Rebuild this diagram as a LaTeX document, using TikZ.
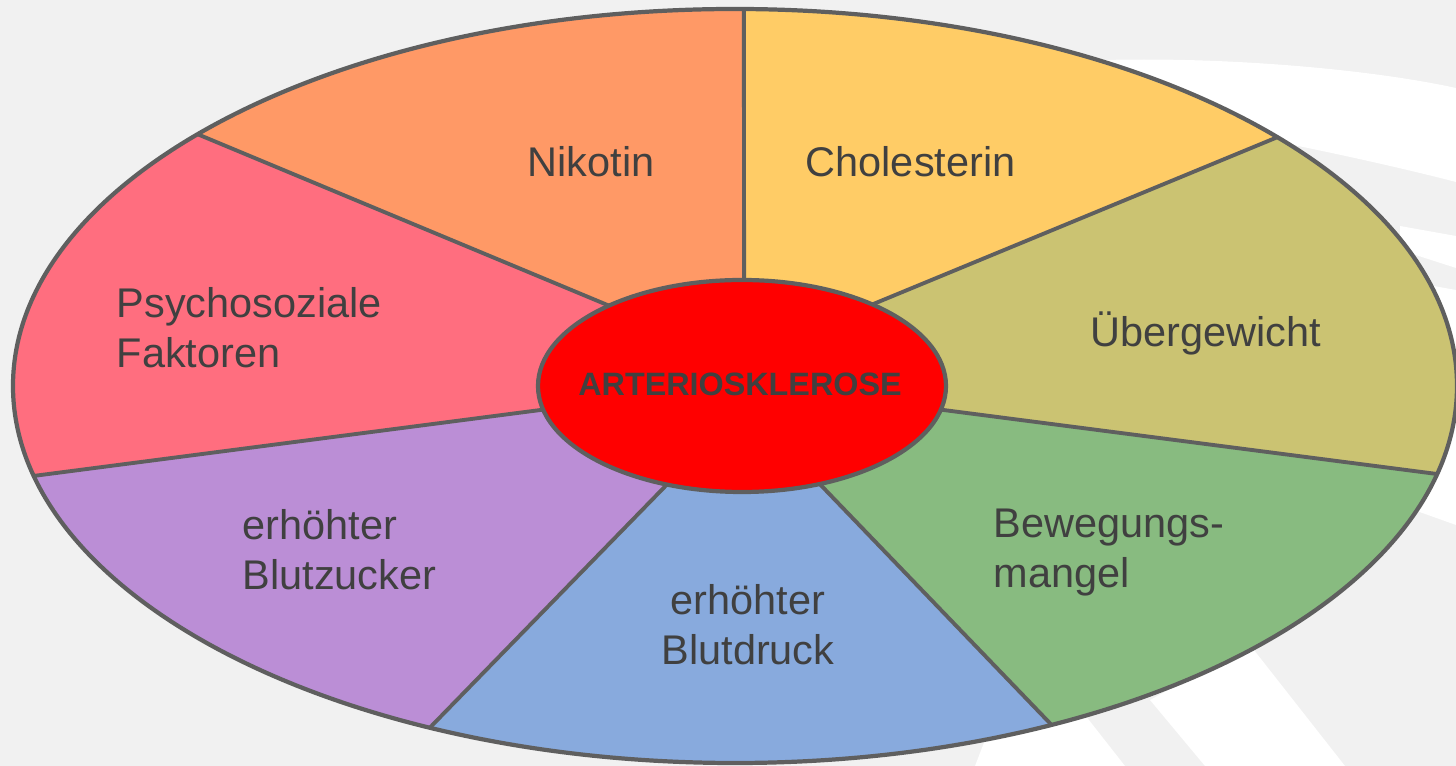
\documentclass[tikz,border=0pt]{standalone}
\usepackage{fontspec}
\setmainfont{Liberation Sans}

\definecolor{hintergrund}{HTML}{F1F1F1}
\definecolor{linie}{HTML}{5F5F5F}
\definecolor{schrift}{HTML}{404040}
\definecolor{nikotin}{HTML}{FF9966}
\definecolor{cholesterin}{HTML}{FFCC66}
\definecolor{uebergewicht}{HTML}{CBC372}
\definecolor{bewegung}{HTML}{88BB80}
\definecolor{blutdruck}{HTML}{88AADD}
\definecolor{blutzucker}{HTML}{BB8ED6}
\definecolor{psycho}{HTML}{FF6E7F}

\begin{document}
\begin{tikzpicture}[x=1mm, y=1mm,
    linie/.style={draw=linie, line width=1.1pt},
    kern/.style={fill=red, draw=linie, line width=1.2pt},
    faktor/.style={text=schrift, font=\fontsize{11.8}{14.3}\selectfont, inner sep=0pt, align=left, anchor=base west},
    kerntext/.style={text=schrift, font=\fontsize{9.2}{11}\selectfont\bfseries, inner sep=0pt}]

    % Hintergrund
    \fill[hintergrund] (-73.5,-38.0) rectangle (72.1,38.6);
    \useasboundingbox (-73.5,-38.0) rectangle (72.1,38.6);
    \fill[white] (32.5,32.4) .. controls (45,33.2) and (62,32) .. (72.1,29.8) -- (72.1,20.4) .. controls (64,22.5) and (50,25.5) .. (36.5,27.6) -- cycle;
    \fill[white] (66.5,16.0) -- (72.1,15.0) -- (72.1,11.8) -- (66.5,13.6) -- cycle;
    \fill[white] (66.5,10.6) -- (72.1,9.6) -- (72.1,-13.9) -- (66.5,-11.9) -- cycle;
    \fill[white] (24.0,-38.0) -- (25.0,-35.4) -- (35.0,-32.9) -- (39.0,-38.0) -- cycle;
    \fill[white] (41.5,-31.4) -- (51.5,-25.9) -- (61.0,-38.0) -- (47.0,-38.0) -- cycle;

    % Punkte innen / aussen
    \coordinate (i1) at ([shift={(0.7,0)}]89.4:20.4 and 10.6);
    \coordinate (i2) at ([shift={(0.7,0)}]50.3:20.4 and 10.6);
    \coordinate (i3) at ([shift={(0.7,0)}]-12.9:20.4 and 10.6);
    \coordinate (i4) at ([shift={(0.7,0)}]-67.6:20.4 and 10.6);
    \coordinate (i5) at ([shift={(0.7,0)}]-111.6:20.4 and 10.6);
    \coordinate (i6) at ([shift={(0.7,0)}]192.9:20.4 and 10.6);
    \coordinate (i7) at ([shift={(0.7,0)}]130.7:20.4 and 10.6);

    \coordinate (a1) at (89.3:72.2 and 37.7);
    \coordinate (a2) at (41.3:72.2 and 37.7);
    \coordinate (a3) at (-13.5:72.2 and 37.7);
    \coordinate (a4) at (-64.0:72.2 and 37.7);
    \coordinate (a5) at (-115.0:72.2 and 37.7);
    \coordinate (a6) at (193.8:72.2 and 37.7);
    \coordinate (a7) at (138.1:72.2 and 37.7);

    % Sektoren
    \fill[cholesterin] (i1) -- (a1) arc[start angle=89.3, end angle=41.3, x radius=72.2mm, y radius=37.7mm] -- (i2) -- cycle;
    \fill[uebergewicht] (i2) -- (a2) arc[start angle=41.3, end angle=-13.5, x radius=72.2mm, y radius=37.7mm] -- (i3) -- cycle;
    \fill[bewegung] (i3) -- (a3) arc[start angle=-13.5, end angle=-64.0, x radius=72.2mm, y radius=37.7mm] -- (i4) -- cycle;
    \fill[blutdruck] (i4) -- (a4) arc[start angle=-64.0, end angle=-115.0, x radius=72.2mm, y radius=37.7mm] -- (i5) -- cycle;
    \fill[blutzucker] (i5) -- (a5) arc[start angle=-115.0, end angle=-166.2, x radius=72.2mm, y radius=37.7mm] -- (i6) -- cycle;
    \fill[psycho] (i6) -- (a6) arc[start angle=193.8, end angle=138.1, x radius=72.2mm, y radius=37.7mm] -- (i7) -- cycle;
    \fill[nikotin] (i7) -- (a7) arc[start angle=138.1, end angle=89.3, x radius=72.2mm, y radius=37.7mm] -- (i1) -- cycle;

    % Trennlinien
    \draw[linie] (i1) -- (a1);
    \draw[linie] (i2) -- (a2);
    \draw[linie] (i3) -- (a3);
    \draw[linie] (i4) -- (a4);
    \draw[linie] (i5) -- (a5);
    \draw[linie] (i6) -- (a6);
    \draw[linie] (i7) -- (a7);
    \draw[linie, line width=1.2pt] (0,0) ellipse [x radius=72.2mm, y radius=37.7mm];

    % Kern
    \draw[kern] (0.7,0) ellipse [x radius=20.4mm, y radius=10.6mm];
    \node[kerntext] (arterio) at (0.5,0.2) {ARTERIOSKLEROSE};

    % Faktoren (base = letzte Zeile)
    \node[faktor] (nikotin) at (-20.8,20.9) {Nikotin};
    \node[faktor] (cholesterin) at (7.0,20.9) {Cholesterin};
    \node[faktor] (uebergewicht) at (35.5,3.9) {Übergewicht};
    \node[faktor] (psycho) at (-61.9,1.8) {Psychosoziale\\Faktoren};
    \node[faktor] (blutzucker) at (-49.3,-20.4) {erhöhter\\Blutzucker};
    \node[faktor, align=center, anchor=base] (blutdruck) at (1.3,-27.9) {erhöhter\\Blutdruck};
    \node[faktor] (bewegung) at (25.8,-20.2) {Bewegungs-\\mangel};
\end{tikzpicture}
\end{document}
